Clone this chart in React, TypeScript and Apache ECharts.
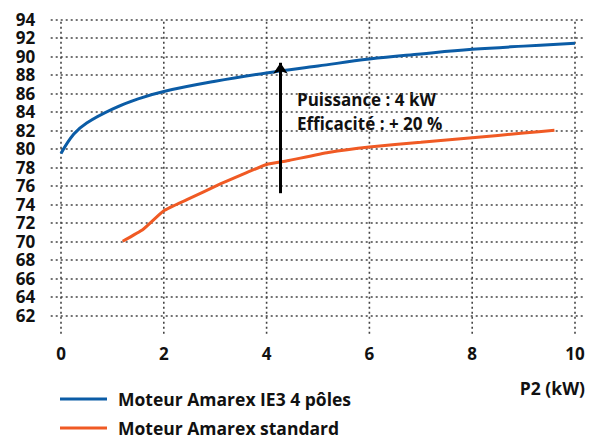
import React, { useEffect, useRef } from "react";
import * as echarts from "echarts";

const xTicks = [0, 2, 4, 6, 8, 10];
const yTicks = [62, 64, 66, 68, 70, 72, 74, 76, 78, 80, 82, 84, 86, 88, 90, 92, 94];
const yMin = 60;
const yMax = 94;

const seriesNames = ["Moteur Amarex IE3 4 pôles", "Moteur Amarex standard"];

const ie3P = [0, 0.25, 0.5, 1, 1.5, 2, 3, 4, 5, 6, 7, 8, 9, 10];
const ie3Eff = [79.5, 81.6, 82.8, 84.3, 85.4, 86.2, 87.3, 88.2, 88.95, 89.7, 90.25, 90.75, 91.1, 91.4];

const stdP = [1.2, 1.6, 2.0, 2.45, 3.1, 3.6, 4.0, 4.4, 5.2, 6.0, 7.0, 8.0, 9.0, 9.6];
const stdEff = [70, 71.3, 73.3, 74.5, 76.2, 77.4, 78.3, 78.7, 79.6, 80.2, 80.7, 81.2, 81.7, 82.0];

const arrowP = 4.27;
const arrowFrom = 75.2;
const arrowTo = 89.3;

const annotation = ["Puissance : 4 kW", "Efficacité : + 20 %"];
const xAxisTitle = "P2 (kW)";

const FONT = "'Open Sans', 'Noto Sans', sans-serif";
const BLUE = "#0b5ca6";
const ORANGE = "#f05a24";
const GRID_COLOR = "#444444";

export default function App() {
  const ref = useRef<HTMLDivElement>(null);
  useEffect(() => {
    if (!ref.current) return;
    const chart = echarts.init(ref.current, undefined, { renderer: "svg" });
    const gridLineSeries = xTicks.map((v) => ({
      name: "grid-" + v,
      type: "line",
      xAxisIndex: 1,
      yAxisIndex: 1,
      silent: true,
      clip: false,
      z: 1,
      showSymbol: false,
      data: [
        [v, yMin],
        [v, yMax],
      ],
      lineStyle: { color: GRID_COLOR, width: 1.6, type: [2, 3] },
      itemStyle: { color: GRID_COLOR },
    }));
    const option: any = {
      animation: false,
      grid: [
        { left: 50.7, right: 16.4, top: 19.3, bottom: 105.2 },
        { left: 61, right: 27, top: 19.3, bottom: 105.2 },
      ],
      xAxis: [
        { type: "value", gridIndex: 0, min: 0, max: 1, show: false },
        {
          type: "value",
          gridIndex: 1,
          min: xTicks[0],
          max: xTicks[xTicks.length - 1],
          interval: 2,
          axisLine: { show: false },
          axisTick: { show: false },
          axisLabel: {
            margin: 11,
            color: "#111",
            fontFamily: FONT,
            fontWeight: "bold",
            fontSize: 17,
          },
          splitLine: { show: false },
        },
      ],
      yAxis: [
        {
          type: "value",
          gridIndex: 0,
          min: yMin,
          max: yMax,
          interval: 2,
          axisLine: { show: false },
          axisTick: { show: false },
          axisLabel: {
            margin: 15.5,
            color: "#111",
            fontFamily: FONT,
            fontWeight: "bold",
            fontSize: 17,
            lineHeight: 17,
            formatter: (v: number) => (yTicks.includes(v) ? String(v) : ""),
          },
          splitLine: {
            show: true,
            showMinLine: false,
            lineStyle: { color: GRID_COLOR, width: 1.6, type: [2, 3] },
          },
        },
        {
          type: "value",
          gridIndex: 1,
          min: yMin,
          max: yMax,
          show: false,
          axisLabel: { show: false },
          splitLine: { show: false },
        },
      ],
      legend: {
        orient: "vertical",
        left: 60,
        top: 390,
        padding: 0,
        itemWidth: 47,
        itemHeight: 3,
        itemGap: 11,
        icon: "rect",
        textStyle: {
          color: "#111",
          fontFamily: FONT,
          fontWeight: "bold",
          fontSize: 17.5,
          lineHeight: 18,
          padding: [0, 0, 0, 6],
        },
        data: seriesNames,
      },
      series: [
        ...gridLineSeries,
        {
          name: seriesNames[0],
          type: "line",
          xAxisIndex: 1,
          yAxisIndex: 1,
          z: 3,
          data: ie3P.map((p, i) => [p, ie3Eff[i]]),
          smooth: 0.4,
          showSymbol: false,
          lineStyle: { color: BLUE, width: 3 },
          itemStyle: { color: BLUE },
        },
        {
          name: seriesNames[1],
          type: "line",
          xAxisIndex: 1,
          yAxisIndex: 1,
          z: 3,
          data: stdP.map((p, i) => [p, stdEff[i]]),
          smooth: 0.15,
          showSymbol: false,
          lineStyle: { color: ORANGE, width: 3 },
          itemStyle: { color: ORANGE },
          markLine: {
            silent: true,
            symbol: ["none", "arrow"],
            symbolSize: [11, 11],
            label: { show: false },
            lineStyle: { color: "#000", width: 3, type: "solid" },
            data: [[{ coord: [arrowP, arrowFrom] }, { coord: [arrowP, arrowTo] }]],
          },
        },
      ],
      graphic: [
        {
          type: "text",
          left: 297,
          top: 91,
          style: { text: annotation[0], fill: "#111", font: `bold 17px ${FONT}` },
        },
        {
          type: "text",
          left: 297,
          top: 115,
          style: { text: annotation[1], fill: "#111", font: `bold 17px ${FONT}` },
        },
        {
          type: "text",
          right: 17,
          top: 379,
          style: { text: xAxisTitle, fill: "#111", font: `bold 17.5px ${FONT}` },
        },
      ],
    };
    chart.setOption(option);
    return () => chart.dispose();
  }, []);
  return (
    <div
      ref={ref}
      style={{ position: "absolute", left: 0, top: 0, width: 602, height: 439, background: "#fff" }}
    />
  );
}
